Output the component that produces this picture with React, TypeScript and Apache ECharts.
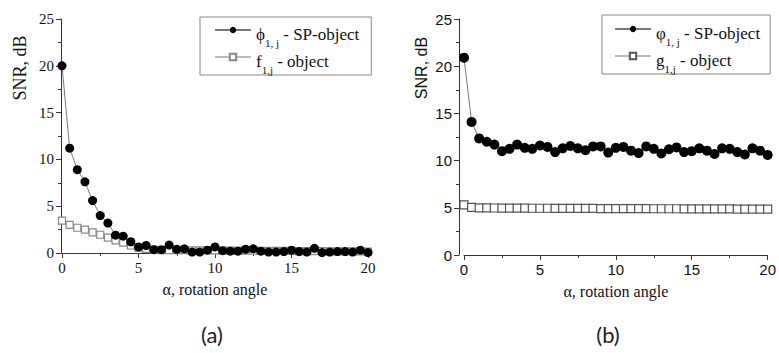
import React, { useEffect, useRef } from "react";
import * as echarts from "echarts";

const alpha = [0, 0.5, 1, 1.5, 2, 2.5, 3, 3.5, 4, 4.5, 5, 5.5, 6, 6.5, 7, 7.5, 8, 8.5, 9, 9.5, 10, 10.5, 11, 11.5, 12, 12.5, 13, 13.5, 14, 14.5, 15, 15.5, 16, 16.5, 17, 17.5, 18, 18.5, 19, 19.5, 20];

// (a)
const phiSP = [20.0, 11.2, 8.9, 7.6, 5.6, 4.0, 3.2, 1.9, 1.8, 1.2, 0.65, 0.8, 0.35, 0.35, 0.85, 0.4, 0.45, 0.1, 0.1, 0.3, 0.65, 0.25, 0.2, 0.2, 0.4, 0.45, 0.2, 0.1, 0.1, 0.15, 0.3, 0.15, 0.1, 0.5, 0.05, 0.1, 0.15, 0.15, 0.1, 0.3, 0.05];
const fObj = [3.45, 3.0, 2.7, 2.5, 2.2, 1.95, 1.65, 1.35, 1.1, 0.8, 0.55, 0.45, 0.35, 0.3, 0.3, 0.3, 0.3, 0.28, 0.28, 0.28, 0.28, 0.26, 0.25, 0.25, 0.25, 0.24, 0.24, 0.23, 0.22, 0.22, 0.22, 0.2, 0.2, 0.2, 0.2, 0.18, 0.18, 0.18, 0.17, 0.17, 0.15];

// (b)
const varphiSP = [20.9, 14.1, 12.35, 12.0, 11.7, 11.0, 11.25, 11.7, 11.35, 11.25, 11.6, 11.45, 10.9, 11.3, 11.55, 11.3, 11.1, 11.5, 11.5, 10.85, 11.35, 11.45, 11.05, 10.8, 11.5, 11.25, 10.75, 11.2, 11.4, 10.9, 11.0, 11.3, 11.05, 10.7, 11.3, 11.25, 10.9, 10.65, 11.3, 11.05, 10.6];
const gObj = [5.3, 5.05, 5.0, 5.0, 4.98, 4.97, 4.97, 4.96, 4.96, 4.95, 4.95, 4.95, 4.94, 4.94, 4.94, 4.93, 4.93, 4.93, 4.92, 4.92, 4.92, 4.92, 4.91, 4.91, 4.91, 4.9, 4.9, 4.9, 4.9, 4.89, 4.89, 4.89, 4.88, 4.88, 4.88, 4.88, 4.87, 4.87, 4.87, 4.86, 4.86];

const legendLabels: Record<string, string> = {
  phiL: "{g|ϕ}{s|1, j}{t| - SP-object}",
  fL: "{g|f}{s|1,j}{t| - object}",
  phiR: "{g|φ}{s|1, j}{t| - SP-object}",
  gR: "{g|g}{s|1,j}{t| - object}",
};

const SERIF = "'Liberation Serif', 'DejaVu Serif', serif";
const SANS = "'Liberation Sans', Arial, sans-serif";

const pairs = (ys: number[]) => alpha.map((a, i) => [a, ys[i]]);

function xAxisCfg(gridIndex: number, font: string) {
  return {
    type: "value",
    gridIndex,
    min: 0,
    max: 20,
    interval: 5,
    axisLine: { show: true, onZero: false, lineStyle: { color: "#333", width: 1 } },
    axisTick: { show: true, inside: false, length: 5, lineStyle: { color: "#333" } },
    minorTick: { show: true, splitNumber: 2, length: 3, lineStyle: { color: "#333" } },
    splitLine: { show: false },
    axisLabel: { fontFamily: font, fontSize: 15, color: "#111", margin: 7 },
    name: "α, rotation angle",
    nameLocation: "middle",
    nameGap: 28,
    nameTextStyle: { fontFamily: SERIF, fontSize: 16, color: "#111" },
  };
}

function yAxisCfg(gridIndex: number, font: string, offset: number) {
  return {
    type: "value",
    gridIndex,
    min: 0,
    max: 25,
    interval: 5,
    offset,
    axisLine: { show: true, onZero: false, lineStyle: { color: "#333", width: 1 } },
    axisTick: { show: true, inside: false, length: 5, lineStyle: { color: "#333" } },
    minorTick: { show: true, splitNumber: 2, length: 3, lineStyle: { color: "#333" } },
    splitLine: { show: false },
    axisLabel: { fontFamily: font, fontSize: 15, color: "#111", margin: 7 },
  };
}

const richStyles = {
  g: { fontFamily: SERIF, fontSize: 17, color: "#111", lineHeight: 18, verticalAlign: "top", padding: [5, 0, 0, 0] },
  t: { fontFamily: SERIF, fontSize: 17, color: "#111", lineHeight: 18, verticalAlign: "top", padding: [5, 0, 0, 0] },
  s: { fontFamily: SERIF, fontSize: 11, color: "#111", lineHeight: 12, verticalAlign: "top", padding: [16, 0, 0, 0] },
};

export default function App() {
  const ref = useRef<HTMLDivElement>(null);
  useEffect(() => {
    if (!ref.current) return;
    const chart = echarts.init(ref.current, null, { renderer: "svg" });
    const circleSeries = (name: string, ys: number[], idx: number, size: number) => ({
      name,
      type: "line",
      xAxisIndex: idx,
      yAxisIndex: idx,
      data: pairs(ys),
      symbol: "circle",
      symbolSize: size,
      itemStyle: { color: "#000", borderColor: "#000", borderWidth: 0 },
      lineStyle: { color: "#777", width: 1 },
      z: 4,
    });
    const squareSeries = (name: string, ys: number[], idx: number, border: string, size: number) => ({
      name,
      type: "line",
      xAxisIndex: idx,
      yAxisIndex: idx,
      data: pairs(ys),
      symbol: "rect",
      symbolSize: size,
      itemStyle: { color: "#fff", borderColor: border, borderWidth: 1.2 },
      lineStyle: { color: "#bbb", width: 1 },
      z: 3,
    });
    const legendBase = {
      orient: "vertical",
      itemWidth: 36,
      itemHeight: 8,
      itemGap: 0,
      borderColor: "#888",
      borderWidth: 1,
      backgroundColor: "#fff",
      formatter: (n: string) => legendLabels[n] || n,
      textStyle: { rich: richStyles, fontFamily: SERIF, fontSize: 17, color: "#111" },
    };
    chart.setOption({
      animation: false,
      backgroundColor: "#fff",
      grid: [
        { left: 62, top: 19, width: 306, height: 234 },
        { left: 464, top: 19, width: 307, height: 236 },
      ],
      xAxis: [xAxisCfg(0, SERIF), xAxisCfg(1, SANS)],
      yAxis: [yAxisCfg(0, SERIF, 1), yAxisCfg(1, SANS, 5)],
      legend: [
        { ...legendBase, data: ["phiL", "fL"], left: 200, top: 17, padding: [4, 12, 0, 14] },
        { ...legendBase, data: ["phiR", "gR"], left: 602, top: 15, padding: [5, 10, 0, 12] },
      ],
      series: [
        circleSeries("phiL", phiSP, 0, 9),
        squareSeries("fL", fObj, 0, "#888", 7),
        circleSeries("phiR", varphiSP, 1, 10),
        squareSeries("gR", gObj, 1, "#555", 8),
      ],
      graphic: [
        {
          type: "text",
          x: 20,
          y: 68,
          rotation: Math.PI / 2,
          style: { text: "SNR, dB", fontFamily: SERIF, fontSize: 18, fill: "#111", align: "center", verticalAlign: "middle" },
        },
        {
          type: "text",
          x: 421,
          y: 68,
          rotation: Math.PI / 2,
          style: { text: "SNR, dB", fontFamily: SANS, fontSize: 16, fill: "#111", align: "center", verticalAlign: "middle" },
        },
        {
          type: "text",
          x: 212,
          y: 334,
          style: { text: "(a)", fontFamily: "Lato, 'Open Sans', sans-serif", fontSize: 22, fill: "#222", align: "center", verticalAlign: "middle" },
        },
        {
          type: "text",
          x: 608,
          y: 334,
          style: { text: "(b)", fontFamily: "Lato, 'Open Sans', sans-serif", fontSize: 22, fill: "#222", align: "center", verticalAlign: "middle" },
        },
      ],
    });
    return () => chart.dispose();
  }, []);
  return <div ref={ref} style={{ position: "fixed", left: 0, top: 0, width: 779, height: 353 }} />;
}
